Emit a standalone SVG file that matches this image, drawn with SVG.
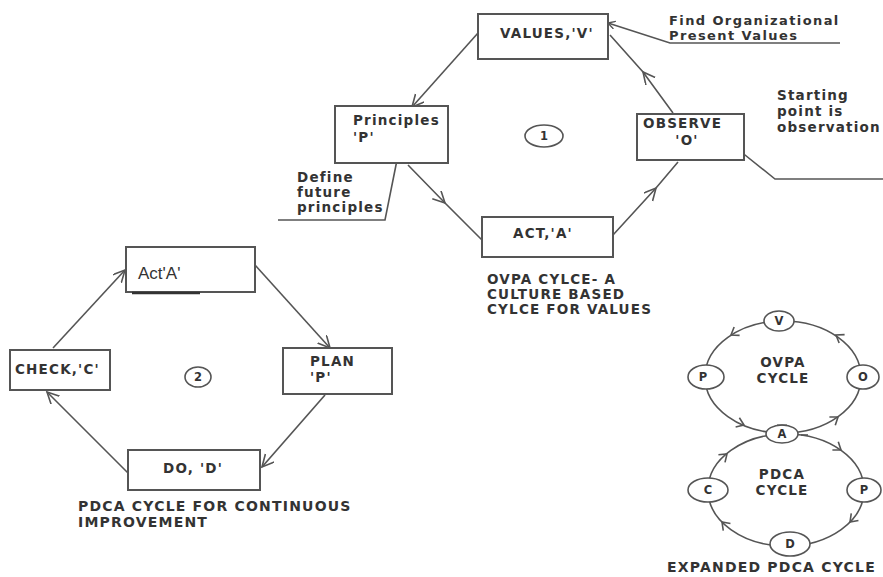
<svg xmlns="http://www.w3.org/2000/svg" width="883" height="577" viewBox="0 0 883 577">
<defs>
<style>
.box{fill:#fff;stroke:#555;stroke-width:2}
.ln{fill:none;stroke:#555;stroke-width:1.6}
.b{font-family:"DejaVu Sans",Verdana,sans-serif;font-weight:bold;font-size:13.5px;fill:#333;letter-spacing:1.2px}
.nt{font-family:"DejaVu Sans",Verdana,sans-serif;font-weight:bold;font-size:13px;fill:#333;letter-spacing:1.4px}
.cap{font-family:"DejaVu Sans",Verdana,sans-serif;font-weight:bold;font-size:14px;fill:#333;letter-spacing:1.2px}
.r{font-family:"Liberation Sans",Arial,sans-serif;font-size:17px;fill:#333}
.sm{font-family:"DejaVu Sans",Verdana,sans-serif;font-weight:bold;font-size:11.5px;fill:#333;text-anchor:middle}
.nd{fill:#fff;stroke:#555;stroke-width:1.6}
.ch{fill:none;stroke:#555;stroke-width:1.6}
</style>
<marker id="ah" markerWidth="16" markerHeight="16" refX="12" refY="6" orient="auto" markerUnits="userSpaceOnUse">
<path d="M0,0 L12,6 L0,12" fill="none" stroke="#555" stroke-width="1.6"/>
</marker>
<marker id="sa" markerWidth="10" markerHeight="10" refX="7" refY="4" orient="auto" markerUnits="userSpaceOnUse">
<path d="M0,0 L7,4 L0,8" fill="none" stroke="#555" stroke-width="1.4"/>
</marker>
</defs>
<rect width="883" height="577" fill="#fff"/>

<g id="connectors">
<!-- top cycle -->
<polyline class="ln" points="478,33 412,107" marker-end="url(#ah)"/>
<polyline class="ln" points="408,165 445,203 482,240" marker-mid="url(#ah)"/>
<polyline class="ln" points="613,235 656,188 678,162" marker-mid="url(#ah)"/>
<polyline class="ln" points="673,113 643,72 610,35" marker-mid="url(#ah)"/>
<!-- annotations -->
<polyline class="ln" points="840,43 670,43 608,23" marker-end="url(#sa)"/>
<polyline class="ln" points="883,179 775,179 740,151"/>
<polyline class="ln" points="278,220 385,220 397,160"/>
<!-- bottom-left cycle -->
<line class="ln" x1="53" y1="348" x2="125" y2="270" marker-end="url(#ah)"/>
<line class="ln" x1="255" y1="265" x2="330" y2="348" marker-end="url(#ah)"/>
<line class="ln" x1="325" y1="395" x2="262" y2="467" marker-end="url(#ah)"/>
<line class="ln" x1="128" y1="473" x2="47" y2="392" marker-end="url(#ah)"/>
<!-- expanded cycle -->
<ellipse class="ln" cx="783" cy="377" rx="78" ry="56"/>
<ellipse class="ln" cx="786" cy="490" rx="78" ry="56"/>
<path class="ch" d="M-7,-5 L0,0 L-7,5" transform="translate(836,335) rotate(213)"/>
<path class="ch" d="M-7,-5 L0,0 L-7,5" transform="translate(731,335) rotate(147)"/>
<path class="ch" d="M-7,-5 L0,0 L-7,5" transform="translate(744,425) rotate(22)"/>
<path class="ch" d="M-7,-5 L0,0 L-7,5" transform="translate(838,417) rotate(-36)"/>
<path class="ch" d="M-7,-5 L0,0 L-7,5" transform="translate(841,450) rotate(36)"/>
<path class="ch" d="M-7,-5 L0,0 L-7,5" transform="translate(850,522) rotate(134)"/>
<path class="ch" d="M-7,-5 L0,0 L-7,5" transform="translate(722,522) rotate(226)"/>
<path class="ch" d="M-7,-5 L0,0 L-7,5" transform="translate(727,454) rotate(-41)"/>
</g>

<!-- top cycle nodes -->
<g id="values"><rect class="box" x="478" y="14" width="130" height="45"/><text class="b" x="500" y="38">VALUES,'V'</text></g>
<g id="principles"><rect class="box" x="335" y="106" width="113" height="57"/><text class="b" x="353" y="125">Principles</text><text class="b" x="353" y="142">'P'</text></g>
<g id="observe"><rect class="box" x="637" y="114" width="107" height="46"/><text class="b" x="643" y="128">OBSERVE</text><text class="b" x="687" y="145" text-anchor="middle">'O'</text></g>
<g id="act1"><rect class="box" x="482" y="217" width="131" height="40"/><text class="b" x="513" y="238">ACT,'A'</text></g>
<g id="n1"><ellipse class="nd" cx="544" cy="136" rx="19" ry="11"/><text class="sm" x="544" y="140">1</text></g>

<g id="note-values"><text class="nt" x="669" y="25">Find Organizational</text><text class="nt" x="669" y="40">Present  Values</text></g>
<g id="note-observe"><text class="b" x="777" y="100">Starting</text><text class="b" x="777" y="116">point is</text><text class="b" x="777" y="132">observation</text></g>
<g id="note-principles"><text class="b" x="297" y="182">Define</text><text class="b" x="297" y="197">future</text><text class="b" x="297" y="212">principles</text></g>
<g id="cap1"><text class="b" x="487" y="284">OVPA CYLCE- A</text><text class="b" x="487" y="299">CULTURE BASED</text><text class="b" x="487" y="314">CYLCE FOR VALUES</text></g>

<!-- bottom-left cycle -->
<g id="act2"><rect class="box" x="126" y="247" width="129" height="45"/><text class="r" x="138" y="279">Act'A'</text><line x1="132" y1="293" x2="200" y2="293" stroke="#333" stroke-width="2.5"/></g>
<g id="check"><rect class="box" x="10" y="350" width="100" height="40"/><text class="b" x="15" y="374">CHECK,'C'</text></g>
<g id="plan"><rect class="box" x="283" y="348" width="109" height="46"/><text class="b" x="310" y="366">PLAN</text><text class="b" x="310" y="382">'P'</text></g>
<g id="do"><rect class="box" x="128" y="450" width="132" height="40"/><text class="b" x="163" y="473">DO, 'D'</text></g>
<g id="n2"><ellipse class="nd" cx="198" cy="377" rx="13" ry="10"/><text class="sm" x="198" y="381" font-size="10">2</text></g>
<g id="cap2"><text class="cap" x="78" y="511">PDCA CYCLE FOR CONTINUOUS</text><text class="cap" x="78" y="527">IMPROVEMENT</text></g>

<!-- expanded cycle -->
<g id="ev"><ellipse class="nd" cx="779" cy="321" rx="15" ry="10"/><text class="sm" x="779" y="325">V</text></g>
<g id="ep1"><ellipse class="nd" cx="706" cy="377" rx="18" ry="12"/><text class="sm" x="703" y="381">P</text></g>
<g id="eo"><ellipse class="nd" cx="863" cy="377" rx="16" ry="12"/><text class="sm" x="863" y="381">O</text></g>
<g id="ea"><ellipse class="nd" cx="782" cy="434" rx="16" ry="9"/><text class="sm" x="782" y="438">A</text><line x1="777" y1="425" x2="787" y2="425" stroke="#555" stroke-width="1.2"/><line x1="801" y1="435" x2="808" y2="435" stroke="#555" stroke-width="1.6"/></g>
<g id="ec"><ellipse class="nd" cx="708" cy="490" rx="20" ry="12"/><text class="sm" x="708" y="494">C</text></g>
<g id="ep2"><ellipse class="nd" cx="864" cy="490" rx="17" ry="12"/><text class="sm" x="864" y="494">P</text></g>
<g id="ed"><ellipse class="nd" cx="790" cy="544" rx="20" ry="12"/><text class="sm" x="790" y="548">D</text></g>
<g id="elabels"><text class="b" x="783" y="367" text-anchor="middle">OVPA</text><text class="b" x="783" y="383" text-anchor="middle">CYCLE</text><text class="b" x="782" y="479" text-anchor="middle">PDCA</text><text class="b" x="782" y="495" text-anchor="middle">CYCLE</text><text class="cap" x="667" y="572">EXPANDED PDCA CYCLE</text></g>
</svg>
